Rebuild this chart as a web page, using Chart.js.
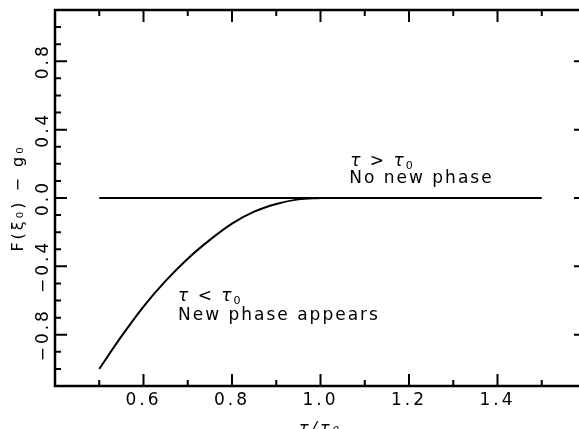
<!DOCTYPE html>
<html>
<head>
<meta charset="utf-8">
<script src="https://cdn.jsdelivr.net/npm/chart.js@4"></script>
<style>
  html, body { margin: 0; padding: 0; overflow: hidden; background: #fff; }
  #wrap { width: 600px; height: 440px; }
</style>
</head>
<body>
<div id="wrap"><canvas id="chart" width="600" height="440"></canvas></div>
<script>
// F(xi0) - g0 below the transition temperature
const tauRatio = [0.50, 0.55, 0.60, 0.65, 0.70, 0.75, 0.80, 0.85, 0.90, 0.95, 1.00];
const freeEnergy = [-1.00, -0.81, -0.635, -0.485, -0.355, -0.245, -0.15, -0.08, -0.035, -0.008, 0.0];

// branch with no new phase
const flatTau = [0.5, 1.5];
const flatValue = [0.0, 0.0];

// tick positions
const xMajor = [0.6, 0.8, 1.0, 1.2, 1.4];
const xMinor = [0.5, 0.7, 0.9, 1.1, 1.3, 1.5];
const yMajor = [-0.8, -0.4, 0.0, 0.4, 0.8];
const yMinor = [-1.0, -0.9, -0.7, -0.6, -0.5, -0.3, -0.2, -0.1, 0.1, 0.2, 0.3, 0.5, 0.6, 0.7, 0.9, 1.0];

const FONT = '"DejaVu Sans"';

function fmt(v) {
  return v.toFixed(1).replace('-', '\u2212');
}

// text runs: plain, italic tau, small subscript
function drawRich(ctx, parts, x, y, size) {
  let cx = x;
  parts.forEach(p => {
    const s = p.sub ? Math.round(size * 0.62) : size;
    ctx.font = (p.italic ? 'italic ' : '') + s + 'px ' + FONT;
    ctx.fillText(p.t, cx, p.sub ? y + 3 : y);
    cx += ctx.measureText(p.t).width;
  });
}

const notes = [
  { x: 1.067, y: 0.19, parts: [{ t: 'τ', italic: true }, { t: ' > ' }, { t: 'τ', italic: true }, { t: '0', sub: true }] },
  { x: 1.065, y: 0.085, parts: [{ t: 'No new phase' }] },
  { x: 0.678, y: -0.605, parts: [{ t: 'τ', italic: true }, { t: ' < ' }, { t: 'τ', italic: true }, { t: '0', sub: true }] },
  { x: 0.678, y: -0.715, parts: [{ t: 'New phase appears' }] }
];

// wide letter spacing for all text on the canvas
const spacing = {
  id: 'spacing',
  beforeInit(chart) { chart.ctx.letterSpacing = '3px'; },
  beforeDraw(chart) { chart.ctx.letterSpacing = '3px'; }
};

// box frame with inward ticks on all four sides
const frameTicks = {
  id: 'frameTicks',
  afterDatasetsDraw(chart) {
    const { ctx, chartArea: a, scales: { x, y } } = chart;
    ctx.save();
    ctx.strokeStyle = '#000';
    ctx.lineWidth = 2.5;
    ctx.strokeRect(a.left, a.top, a.right - a.left, a.bottom - a.top);
    ctx.lineWidth = 2;
    ctx.beginPath();
    const xt = (vals, len) => vals.forEach(v => {
      const px = x.getPixelForValue(v);
      ctx.moveTo(px, a.bottom); ctx.lineTo(px, a.bottom - len);
      ctx.moveTo(px, a.top); ctx.lineTo(px, a.top + len);
    });
    const yt = (vals, len) => vals.forEach(v => {
      const py = y.getPixelForValue(v);
      ctx.moveTo(a.left, py); ctx.lineTo(a.left + len, py);
      ctx.moveTo(a.right, py); ctx.lineTo(a.right - len, py);
    });
    xt(xMajor, 12); xt(xMinor, 6);
    yt(yMajor, 12); yt(yMinor, 6);
    ctx.stroke();
    ctx.restore();
  },
  afterDraw(chart) {
    const { ctx, scales: { x, y } } = chart;
    ctx.save();
    ctx.fillStyle = '#000';
    ctx.textBaseline = 'alphabetic';
    ctx.textAlign = 'left';
    ctx.letterSpacing = '2px';
    notes.forEach(n => drawRich(ctx, n.parts, x.getPixelForValue(n.x), y.getPixelForValue(n.y), 17));
    ctx.restore();
  }
};

const lineStyle = { showLine: true, borderColor: '#000', borderWidth: 2, pointRadius: 0, fill: false };

new Chart(document.getElementById('chart'), {
  type: 'scatter',
  data: {
    datasets: [
      Object.assign({ data: tauRatio.map((t, i) => ({ x: t, y: freeEnergy[i] })), cubicInterpolationMode: 'monotone' }, lineStyle),
      Object.assign({ data: flatTau.map((t, i) => ({ x: t, y: flatValue[i] })) }, lineStyle)
    ]
  },
  options: {
    responsive: false,
    animation: false,
    events: [],
    layout: { padding: { top: 10, right: 14, left: 0, bottom: 0 } },
    plugins: { legend: { display: false }, tooltip: { enabled: false } },
    scales: {
      x: {
        type: 'linear', min: 0.4, max: 1.6,
        grid: { display: false, drawTicks: false },
        border: { display: false },
        afterBuildTicks: s => { s.ticks = xMajor.map(v => ({ value: v })); },
        afterFit: s => { s.height = 54; },
        ticks: { color: '#000', font: { family: 'DejaVu Sans', size: 17 }, padding: 4, maxRotation: 0, autoSkip: false, callback: v => fmt(v) },
        title: { display: true, text: 'τ/τ₀', color: '#000', font: { family: 'DejaVu Sans', size: 16, style: 'italic' }, padding: { top: 0, bottom: 2 } }
      },
      y: {
        type: 'linear', min: -1.1, max: 1.1,
        grid: { display: false, drawTicks: false },
        border: { display: false },
        afterBuildTicks: s => { s.ticks = yMajor.map(v => ({ value: v })); },
        afterFit: s => { s.width = 55; },
        ticks: { color: '#000', font: { family: 'DejaVu Sans', size: 17 }, padding: -9, minRotation: 90, maxRotation: 90, crossAlign: 'center', autoSkip: false, callback: v => fmt(v) },
        title: { display: true, text: 'F(ξ₀) − g₀', color: '#000', font: { family: 'DejaVu Sans', size: 16 }, padding: { top: 9, bottom: 0 } }
      }
    }
  },
  plugins: [spacing, frameTicks]
});
</script>
</body>
</html>
